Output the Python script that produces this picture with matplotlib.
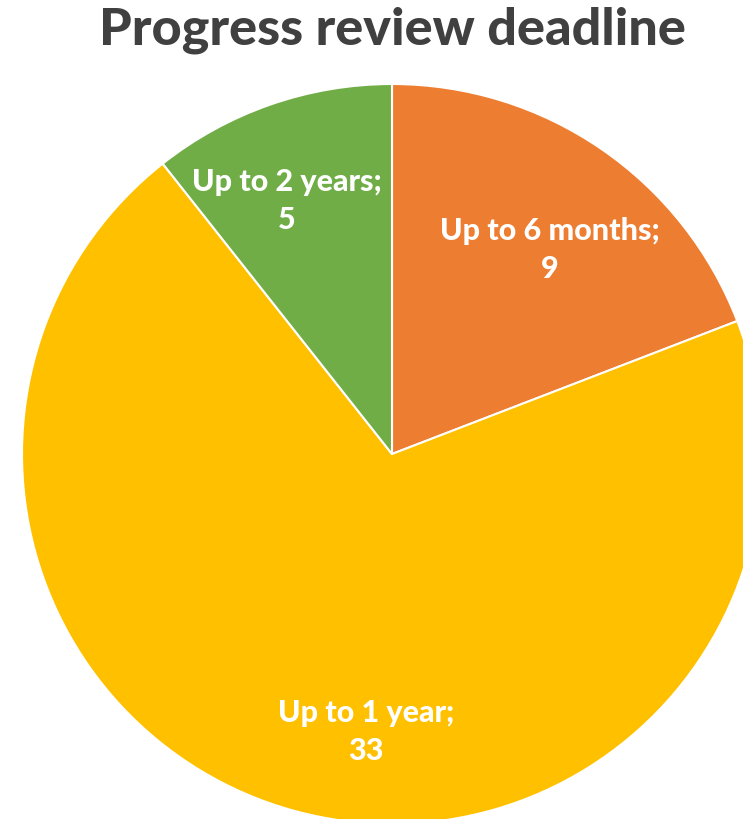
import matplotlib.pyplot as plt

labels = ["Up to 6 months", "Up to 1 year", "Up to 2 years"]
values = [9, 33, 5]
colors = ["#ED7D31", "#FFC000", "#70AD47"]

plt.rcParams['font.family'] = ['Lato', 'DejaVu Sans']

fig = plt.figure(figsize=(7.43, 8.2), dpi=100)
ax = fig.add_axes([0, 0, 1, 1])

# pie centre at (392, 455) px, radius 370 px
r = 370.0
ax.pie(values, colors=colors, startangle=90, counterclock=False, radius=1,
       wedgeprops=dict(edgecolor="white", linewidth=1.5))
ax.set_xlim(-392 / r, (743 - 392) / r)
ax.set_ylim((455 - 820) / r, 455 / r)
ax.set_aspect("equal")
ax.axis("off")

# label positions in pixels
label_px = [(550, 250), (366, 732), (287, 201)]
for (px, py), lab, v in zip(label_px, labels, values):
    ax.text((px - 392) / r, (455 - py) / r, "%s;\n%d" % (lab, v), ha="center", va="center",
            color="white", fontsize=22, fontweight="black", linespacing=1.4)

fig.text(392 / 743, 1 - 30 / 820, "Progress review deadline", ha="center", va="center",
         fontsize=37.5, fontweight="black", color="#404040")

fig.savefig("out.png", dpi=100)
